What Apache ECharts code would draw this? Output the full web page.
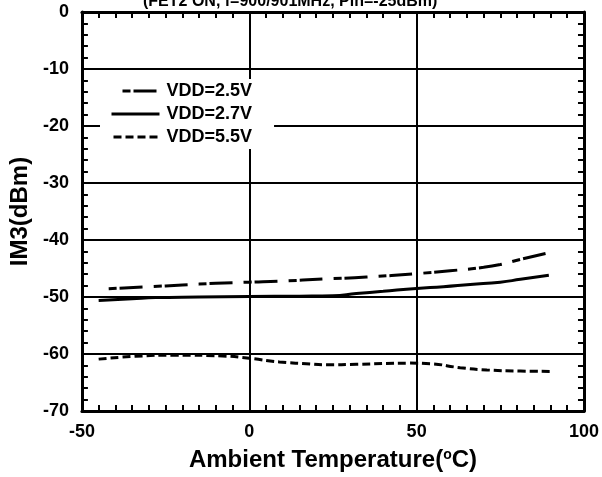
<!DOCTYPE html>
<html>
<head>
<meta charset="utf-8">
<script src="https://cdn.jsdelivr.net/npm/echarts@6/dist/echarts.min.js"></script>
<style>html,body{margin:0;padding:0;background:#fff;}#c{width:602px;height:477px;}</style>
</head>
<body>
<div id="c"></div>
<script>
var titleText = '(FET2 ON, f=900/901MHz, Pin=-25dBm)';
var seriesNames = ['VDD=2.5V', 'VDD=2.7V', 'VDD=5.5V'];

var temp25 = [-42, -30, -20, -10, 0, 10, 22, 35, 50, 60, 70, 75, 81, 89];
var im3_25 = [-48.55, -48.2, -47.9, -47.6, -47.4, -47.2, -46.85, -46.5, -45.9, -45.4, -44.8, -44.3, -43.4, -42.3];

var temp27 = [-45, -35, -28, -15, 0, 15, 25, 32, 40, 50, 58, 66, 75, 81, 89.5];
var im3_27 = [-50.6, -50.3, -50.1, -50.0, -49.9, -49.85, -49.8, -49.4, -49.0, -48.5, -48.2, -47.8, -47.4, -46.9, -46.2];

var temp55 = [-45, -34, -22, -8, 0, 9, 17, 23, 32, 48, 54, 63, 71, 81, 90];
var im3_55 = [-60.9, -60.4, -60.2, -60.35, -60.75, -61.4, -61.7, -61.9, -61.8, -61.6, -61.7, -62.4, -62.8, -63.0, -63.05];

function pairs(xs, ys) { return xs.map(function (x, i) { return [x, ys[i]]; }); }

var FONT = 'Liberation Sans, Arial, sans-serif';
var chart = echarts.init(document.getElementById('c'), null, {renderer: 'canvas'});

var baseTick = {show: true, inside: true, length: 6, lineStyle: {color: '#000', width: 2}};
var minorTick = {show: true, length: 6, lineStyle: {color: '#000', width: 2}};
var axisLine = {show: true, onZero: false, lineStyle: {color: '#000', width: 3}};

chart.setOption({
  animation: false,
  backgroundColor: '#fff',
  title: {
    text: titleText, left: 143, top: -6, padding: 0,
    textStyle: {fontFamily: FONT, fontSize: 16, fontWeight: 'bold', color: '#000'}
  },
  grid: {left: 76, right: 18, top: 12, bottom: 62, containLabel: false},
  legend: {
    show: true, icon: 'inherit',
    orient: 'vertical', left: 100, top: 79,
    padding: [3, 22, 3, 10], backgroundColor: '#fff',
    itemWidth: 48, itemHeight: 14, itemGap: 5,
    itemStyle: {opacity: 0},
    lineStyle: {width: 3},
    textStyle: {fontFamily: FONT, fontSize: 18, fontWeight: 'bold', color: '#000', padding: [0, 0, 0, 2]},
    data: [
      {name: seriesNames[0], lineStyle: {width: 3, dashOffset: 34}},
      {name: seriesNames[1]},
      {name: seriesNames[2]}
    ]
  },
  xAxis: [{
    type: 'value', position: 'bottom', min: -50, max: 100, interval: 50,
    axisLine: axisLine, axisTick: baseTick, minorTick: Object.assign({splitNumber: 10}, minorTick),
    splitLine: {show: true, lineStyle: {color: '#000', width: 2}},
    axisLabel: {fontFamily: FONT, fontSize: 18, fontWeight: 'bold', color: '#000', margin: 12},
    name: '{a|Ambient Temperature(}{s|o}{a|C)}', nameLocation: 'middle', nameGap: 37,
    nameTextStyle: {
      rich: {
        a: {fontFamily: FONT, fontSize: 24, fontWeight: 'bold', color: '#000'},
        s: {fontFamily: FONT, fontSize: 14, fontWeight: 'bold', color: '#000', verticalAlign: 'top', padding: [0, 0, 10, 0]}
      }
    }
  }, {
    type: 'value', position: 'top', min: -50, max: 100, interval: 50,
    axisLine: axisLine, axisTick: baseTick, minorTick: Object.assign({splitNumber: 10}, minorTick),
    splitLine: {show: false}, axisLabel: {show: false}
  }],
  yAxis: [{
    type: 'value', position: 'left', min: -70, max: 0, interval: 10,
    axisLine: axisLine, axisTick: baseTick, minorTick: Object.assign({splitNumber: 5}, minorTick),
    splitLine: {show: true, lineStyle: {color: '#000', width: 2}},
    axisLabel: {fontFamily: FONT, fontSize: 18, fontWeight: 'bold', color: '#000', margin: 13},
    name: 'IM3(dBm)', nameLocation: 'middle', nameGap: 42, nameRotate: 90,
    nameTextStyle: {fontFamily: FONT, fontSize: 24, fontWeight: 'bold', color: '#000'}
  }, {
    type: 'value', position: 'right', min: -70, max: 0, interval: 10,
    axisLine: axisLine, axisTick: baseTick, minorTick: Object.assign({splitNumber: 5}, minorTick),
    splitLine: {show: false}, axisLabel: {show: false}
  }],
  series: [{
    name: seriesNames[0], type: 'line', smooth: true, showSymbol: false, symbol: 'none',
    data: pairs(temp25, im3_25),
    lineStyle: {color: '#000', width: 3, type: [8, 3, 23, 11]}, itemStyle: {color: '#000'}
  }, {
    name: seriesNames[1], type: 'line', smooth: true, showSymbol: false, symbol: 'none',
    data: pairs(temp27, im3_27),
    lineStyle: {color: '#000', width: 3, type: 'solid'}, itemStyle: {color: '#000'}
  }, {
    name: seriesNames[2], type: 'line', smooth: true, showSymbol: false, symbol: 'none',
    data: pairs(temp55, im3_55),
    lineStyle: {color: '#000', width: 3, type: [8, 4]}, itemStyle: {color: '#000'}
  }]
});
</script>
</body>
</html>
